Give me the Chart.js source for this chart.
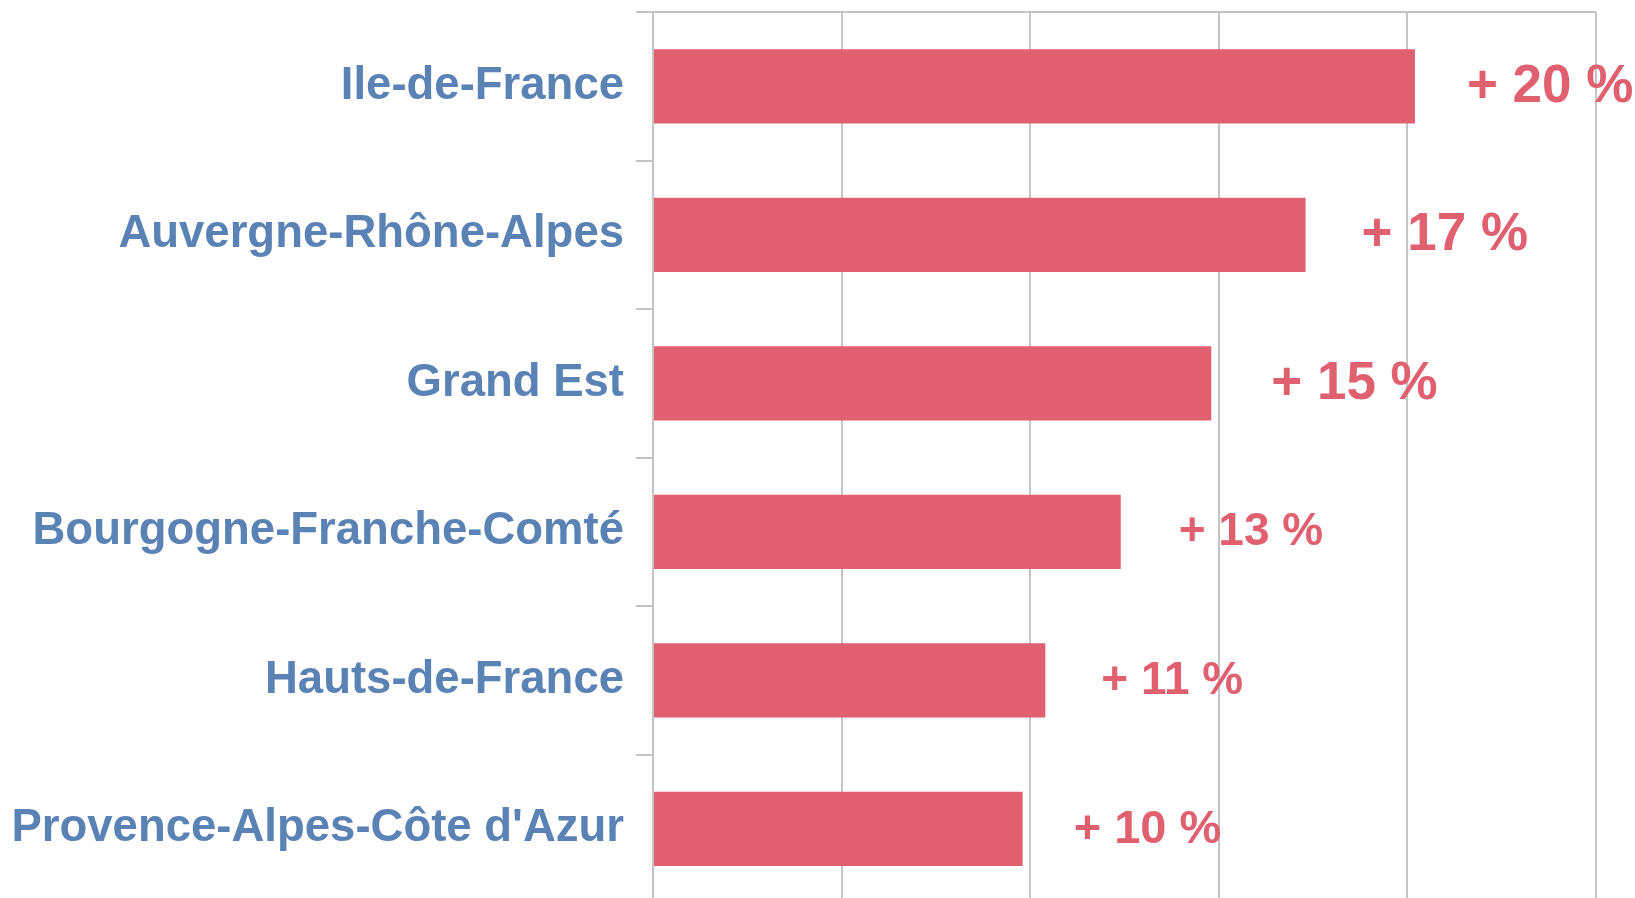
<!DOCTYPE html>
<html lang="fr">
<head>
    <meta charset="UTF-8">
    <title>Régions</title>
    <style>
        body {
            margin: 0;
            background-color: #fff;
            overflow: hidden;
        }
        .chart-container {
            position: absolute;
            left: 0;
            top: 0;
            width: 1635px;
            height: 903px;
        }
    </style>
</head>
<body>
    <div class="chart-container">
        <canvas id="chart1"></canvas>
    </div>

    <script src="https://cdn.jsdelivr.net/npm/chart.js"></script>
    <script>
        const regions = [
            'Ile-de-France',
            'Auvergne-Rhône-Alpes',
            'Grand Est',
            'Bourgogne-Franche-Comté',
            'Hauts-de-France',
            "Provence-Alpes-Côte d'Azur"
        ];
        const growth = [20.2, 17.3, 14.8, 12.4, 10.4, 9.8];
        const growthLabels = ['+ 20 %', '+ 17 %', '+ 15 %', '+ 13 %', '+ 11 %', '+ 10 %'];

        const red = '#e06070';
        const blue = '#5b82b5';
        const gridGrey = '#c4c4c4';

        // label look per bar (font size, gap after bar end)
        const labelStyle = [
            { size: 53, gap: 52 },
            { size: 53, gap: 56 },
            { size: 53, gap: 60 },
            { size: 46, gap: 58 },
            { size: 46, gap: 56 },
            { size: 47, gap: 51 }
        ];

        const valueLabels = {
            id: 'valueLabels',
            afterDatasetsDraw(chart) {
                const ctx = chart.ctx;
                const meta = chart.getDatasetMeta(0);
                ctx.save();
                ctx.fillStyle = red;
                ctx.textAlign = 'left';
                ctx.textBaseline = 'middle';
                meta.data.forEach((bar, i) => {
                    const st = labelStyle[i];
                    ctx.font = 'bold ' + st.size + 'px "Liberation Sans", Arial, sans-serif';
                    ctx.fillText(growthLabels[i], bar.x + st.gap, bar.y + 1);
                });
                ctx.restore();
            }
        };

        const topBorder = {
            id: 'topBorder',
            afterDraw(chart) {
                const { ctx, chartArea } = chart;
                ctx.save();
                ctx.strokeStyle = gridGrey;
                ctx.lineWidth = 2;
                ctx.beginPath();
                ctx.moveTo(chartArea.left, chartArea.top);
                ctx.lineTo(chartArea.right, chartArea.top);
                ctx.stroke();
                ctx.restore();
            }
        };

        const ctx = document.getElementById('chart1').getContext('2d');
        new Chart(ctx, {
            type: 'bar',
            data: {
                labels: regions,
                datasets: [{
                    data: growth,
                    backgroundColor: red,
                    borderWidth: 0,
                    barPercentage: 0.5,
                    categoryPercentage: 1
                }]
            },
            options: {
                indexAxis: 'y',
                responsive: true,
                maintainAspectRatio: false,
                animation: false,
                layout: {
                    padding: { top: 12, right: 39, left: 0, bottom: 0 }
                },
                plugins: {
                    legend: { display: false },
                    tooltip: { enabled: false }
                },
                scales: {
                    x: {
                        min: 0,
                        max: 25,
                        ticks: { display: false, stepSize: 5 },
                        grid: { color: gridGrey, lineWidth: 2, drawTicks: false },
                        border: { display: false },
                        afterFit: (scale) => { scale.height = 0; }
                    },
                    y: {
                        afterFit: (scale) => {
                            scale.width = 653;
                            scale.paddingTop = 0;
                            scale.paddingBottom = 0;
                        },
                        grid: {
                            offset: true,
                            drawOnChartArea: false,
                            drawTicks: true,
                            tickLength: 17,
                            color: gridGrey,
                            lineWidth: 2
                        },
                        border: { display: true, color: gridGrey, width: 2 },
                        ticks: {
                            color: blue,
                            padding: 12,
                            font: { family: '"Liberation Sans", Arial, sans-serif', size: 45.5, weight: 'bold' }
                        }
                    }
                }
            },
            plugins: [valueLabels, topBorder]
        });
    </script>
</body>
</html>
